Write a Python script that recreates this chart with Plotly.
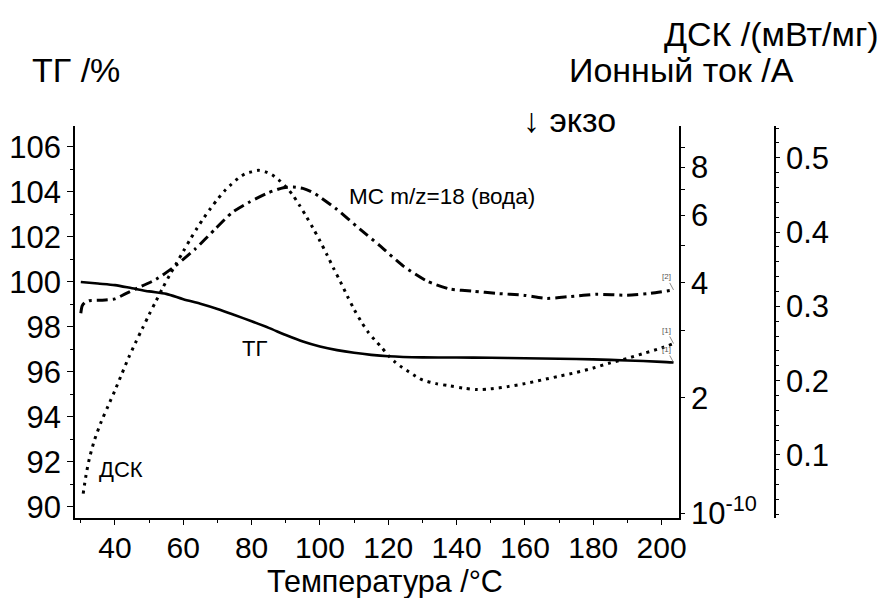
import numpy as np
import plotly.graph_objects as go

# --- TG: sample mass, %
tg_temp = [30, 35, 40, 45, 50, 55, 60, 65, 70, 75, 80, 85, 90, 95, 100, 105,
           110, 115, 120, 130, 140, 150, 160, 170, 180, 190, 200, 203.5]
tg_mass = [100.00, 99.93, 99.86, 99.72, 99.58, 99.47, 99.23, 99.03, 98.80,
           98.53, 98.25, 97.96, 97.64, 97.35, 97.13, 96.97, 96.85, 96.76,
           96.70, 96.65, 96.64, 96.63, 96.61, 96.59, 96.56, 96.51, 96.45, 96.42]

# --- DSC: heat flow, mW/mg
dsc_temp = [30.7, 31.5, 32.5, 34, 36, 38, 40, 42, 44, 46, 48, 50, 52, 54, 56,
            58, 60, 62, 64, 66, 68, 70, 72, 74, 76, 78, 80, 82, 84, 86, 88,
            90, 92, 94, 96, 98, 100, 102, 104, 106, 108, 110, 112, 114, 116,
            118, 120, 122, 124, 126, 128, 130, 134, 138, 142, 146, 150, 155,
            160, 165, 170, 175, 180, 185, 190, 195, 200, 203.5]
dsc_flow = [0.048, 0.072, 0.095, 0.120, 0.145, 0.166, 0.187, 0.209, 0.231,
            0.251, 0.270, 0.289, 0.307, 0.325, 0.342, 0.358, 0.374, 0.390,
            0.405, 0.419, 0.432, 0.444, 0.455, 0.464, 0.472, 0.478, 0.481,
            0.483, 0.481, 0.477, 0.470, 0.461, 0.450, 0.436, 0.421, 0.405,
            0.388, 0.370, 0.351, 0.333, 0.314, 0.296, 0.280, 0.266, 0.255,
            0.245, 0.234, 0.225, 0.218, 0.212, 0.206, 0.201, 0.196, 0.193,
            0.190, 0.188, 0.189, 0.192, 0.196, 0.201, 0.206, 0.211, 0.217,
            0.224, 0.230, 0.237, 0.244, 0.250]

# --- MS: ion current for m/z = 18 (water), A
ms_temp = [30.0, 30.4, 31.2, 32.5, 36, 40, 43, 46, 52, 57.6, 63.4, 69.3, 74.2,
           79.0, 84.9, 89.3, 92.2, 95, 98.1, 104.9, 111.7, 117.6, 124.4, 131.3,
           138.1, 144.9, 151.7, 159.6, 166.4, 173.2, 181.0, 189.8, 196.7, 203.5]
ms_current = [3.33e-10, 3.48e-10, 3.55e-10, 3.59e-10, 3.60e-10, 3.63e-10,
              3.74e-10, 3.85e-10, 4.08e-10, 4.42e-10, 4.89e-10, 5.52e-10,
              6.09e-10, 6.47e-10, 6.87e-10, 7.08e-10, 7.11e-10, 7.05e-10,
              6.87e-10, 6.22e-10, 5.52e-10, 4.99e-10, 4.42e-10, 4.04e-10,
              3.85e-10, 3.80e-10, 3.75e-10, 3.71e-10, 3.64e-10, 3.68e-10,
              3.73e-10, 3.71e-10, 3.75e-10, 3.83e-10]

# --- axis ticks
x_ticks = [40, 60, 80, 100, 120, 140, 160, 180, 200]
tg_ticks = [90, 92, 94, 96, 98, 100, 102, 104, 106]
ms_ticks = [1e-10, 2e-10, 4e-10, 6e-10, 8e-10]
ms_tick_text = ["10<sup>-10</sup>", "2", "4", "6", "8"]
ms_minor_ticks = [3e-10, 5e-10, 7e-10, 9e-10]
dsc_ticks = [0.1, 0.2, 0.3, 0.4, 0.5]
dsc_tick_text = ["0.1", "0.2", "0.3", "0.4", "0.5"]

FONT = "Liberation Sans, Arial, sans-serif"
TICK_SIZE = 31
TITLE_SIZE = 34
LABEL_SIZE = 22
W, H = 886, 598
L, R, T, B = 75, 111, 126, 80
PW, PH = W - L - R, H - T - B


def px(xp):
    return (xp - L) / PW


def py(yp):
    return (H - B - yp) / PH


fig = go.Figure()

fig.add_trace(go.Scatter(
    x=tg_temp, y=tg_mass, mode="lines", yaxis="y",
    line=dict(color="black", width=2.6, shape="spline", smoothing=0.8)))

fig.add_trace(go.Scatter(
    x=dsc_temp, y=dsc_flow, mode="lines", yaxis="y3",
    line=dict(color="black", width=3, dash="3px,5px", shape="spline",
              smoothing=0.8)))

fig.add_trace(go.Scatter(
    x=ms_temp, y=ms_current, mode="lines", yaxis="y2",
    line=dict(color="black", width=3, dash="11px,5px,3px,5px",
              shape="spline", smoothing=0.6)))

axis_common = dict(showline=True, linecolor="black", linewidth=1.5,
                   ticks="outside", tickcolor="black", tickwidth=1,
                   showgrid=False, zeroline=False, automargin=False)

fig.update_layout(
    width=W, height=H,
    margin=dict(l=L, r=R, t=T, b=B, pad=0),
    plot_bgcolor="white", paper_bgcolor="white",
    showlegend=False,
    font=dict(family=FONT, size=TICK_SIZE, color="black"),
    xaxis=dict(domain=[0, 604 / PW], range=[28.3, 205.1],
               tickmode="array", tickvals=x_ticks, ticklen=5,
               ticklabelstandoff=-3,
               tickfont=dict(family=FONT, size=30, color="black"),
               minor=dict(dtick=10, tick0=0, ticks="outside", ticklen=3,
                          tickcolor="black"),
               **axis_common),
    yaxis=dict(range=[89.51, 106.93], tickmode="array", tickvals=tg_ticks,
               ticklen=6,
               tickfont=dict(family=FONT, size=TICK_SIZE, color="black"),
               minor=dict(dtick=1, tick0=0, ticks="outside", ticklen=3,
                          tickcolor="black"),
               **axis_common),
    yaxis2=dict(overlaying="y", side="right", anchor="x", type="log",
                range=[np.log10(0.972e-10), np.log10(10.26e-10)],
                tickmode="array", tickvals=ms_ticks, ticktext=ms_tick_text,
                ticklen=4,
                tickfont=dict(family=FONT, size=TICK_SIZE, color="black"),
                minor=dict(tickmode="array", tickvals=ms_minor_ticks,
                           ticks="outside", ticklen=4, tickcolor="black"),
                **axis_common),
    yaxis3=dict(overlaying="y", side="right", anchor="free", position=1.0,
                range=[0.0152, 0.5427], tickmode="array", tickvals=dsc_ticks,
                ticktext=dsc_tick_text, ticklen=4,
                tickfont=dict(family=FONT, size=TICK_SIZE, color="black"),
                minor=dict(dtick=0.02, tick0=0, ticks="outside", ticklen=3,
                           tickcolor="black"),
                **axis_common),
)

titles = [
    ("ТГ /%", 30, 70, "left", TITLE_SIZE),
    ("Ионный ток /A", 567, 70, "left", TITLE_SIZE),
    ("ДСК /(мВт/мг)", 881, 34, "right", TITLE_SIZE),
    ("↓ экзо", 521, 120, "left", TITLE_SIZE),
    ("Температура /°C", 385, 581, "center", 30.5),
    ("МС m/z=18 (вода)", 347, 196, "left", 22.5),
    ("ТГ", 240, 348, "left", LABEL_SIZE),
    ("ДСК", 97, 469, "left", LABEL_SIZE),
]
for text, xp, yp, anchor, size in titles:
    fig.add_annotation(text=text, xref="paper", yref="paper",
                       x=px(xp), y=py(yp), xanchor=anchor, yanchor="middle",
                       showarrow=False,
                       font=dict(family=FONT, size=size, color="black"))

# curve markers at the right-hand ends
end_marks = [
    ("[2]", ms_temp[-1], np.log10(ms_current[-1]), "y2"),
    ("[1]", dsc_temp[-1], dsc_flow[-1], "y3"),
    ("[1]", tg_temp[-1], tg_mass[-1], "y"),
]
for text, xv, yv, yr in end_marks:
    fig.add_annotation(text=text, x=xv, y=yv, xref="x", yref=yr,
                       showarrow=True, arrowhead=0, arrowwidth=0.7,
                       arrowcolor="#555555", ax=-7, ay=-13,
                       font=dict(family=FONT, size=8, color="#555555"))

fig.write_html("out.html")
